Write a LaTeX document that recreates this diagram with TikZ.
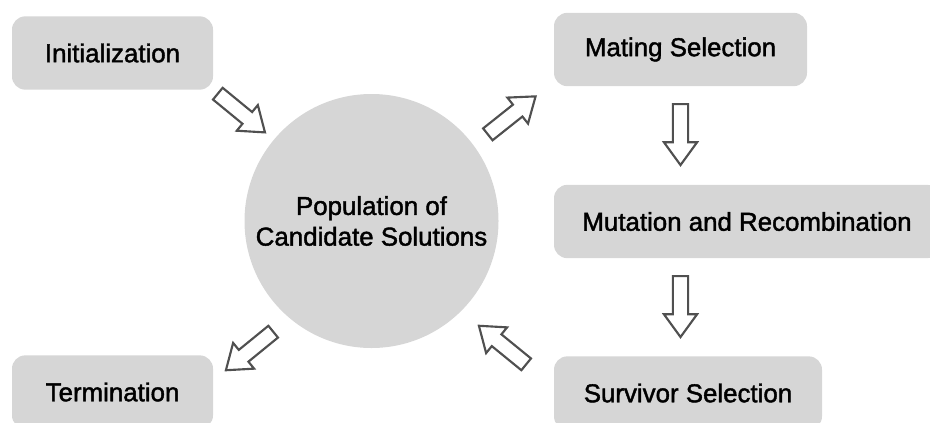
\documentclass[tikz,border=0pt]{standalone}
\usepackage{fontspec}
\usepackage{xcolor}
\usepackage{tikz}
\usetikzlibrary{shapes.arrows,positioning}
\newfontfamily\stagefont{Liberation Sans}[FakeBold=1.6]
\definecolor{boxgray}{HTML}{D6D6D6}
\definecolor{arrgray}{HTML}{505050}
\tikzset{
  gbox/.style={fill=boxgray, rounded corners=10pt, align=center, font=\stagefont\fontsize{19.4}{23}\selectfont, inner sep=0pt, minimum height=55pt},
  gcirc/.style={circle, fill=boxgray, align=center, font=\stagefont\fontsize{19.4}{23}\selectfont, inner sep=0pt, minimum size=190.5pt},
  barr/.style={single arrow, draw=arrgray, fill=white, line width=1.6pt, inner sep=0pt, inner ysep=4.9pt, single arrow head extend=6.75pt, single arrow tip angle=72, minimum height=45.75pt, anchor=tail}
}

\begin{document}
\begin{tikzpicture}[x=0.75pt,y=0.75pt]
\clip (0,0) rectangle (930,-422);
\node[gcirc] (pop) at (371.5,-221) {Population of\\Candidate Solutions};
\node[gbox, minimum width=150.75pt] (init) at (112.5,-53) {Initialization};
\node[gbox, minimum width=189.75pt] (mate) at (680.5,-49.5) {Mating Selection};
\node[gbox, minimum width=289.5pt] (mut) at (747,-221.5) {Mutation and Recombination};
\node[gbox, minimum width=201pt] (surv) at (688,-393) {Survivor Selection};
\node[gbox, minimum width=150.75pt] (term) at (112.5,-392) {Termination};
\node[barr, rotate=-39.4] (ar1) at (217,-93) {};
\node[barr, rotate=38.5] (ar2) at (487,-135) {};
\node[barr, rotate=-90] (ar3) at (680.5,-103) {};
\node[barr, rotate=-90] (ar4) at (680.5,-275) {};
\node[barr, rotate=140.8] (ar5) at (527,-365) {};
\node[barr, rotate=219.2] (ar6) at (274,-331) {};
\end{tikzpicture}
\end{document}
